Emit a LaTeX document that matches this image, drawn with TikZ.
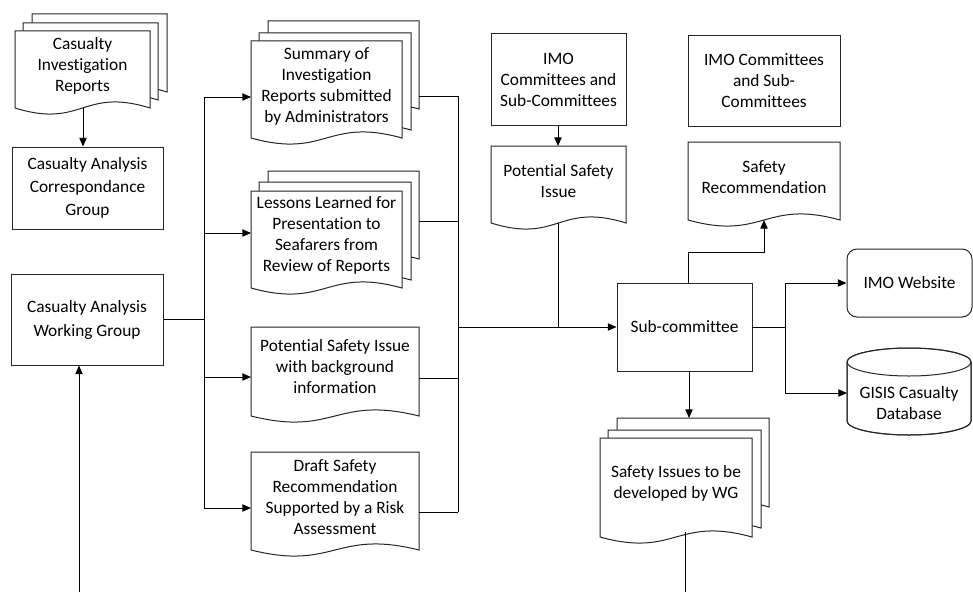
\documentclass[tikz,border=0pt]{standalone}
\usepackage{fontspec}
\setmainfont{Carlito}[Ligatures={NoCommon,NoRare}]
\usetikzlibrary{arrows.meta}
\newcommand\docpg[4]{\draw[shp] (#1,#2) -- (#3,#2) -- (#3,#4) .. controls ({(#1+#3)/2},{#4-21}) and ({(#1+#3)/2},{#4+21}) .. (#1,#4) -- cycle;}
\begin{document}
\begin{tikzpicture}[x=0.75pt,y=-0.75pt,
 shp/.style={draw=black!85,line width=0.75pt,fill=white},
 lbl/.style={align=center,font=\fontsize{13}{15.75}\selectfont,inner sep=0pt},
 boxn/.style={shp,lbl,rectangle},
 con/.style={draw=black,line width=0.75pt},
 arr/.style={con,-{Triangle[length=6.5pt,width=5.5pt]}}]
\useasboundingbox (0,0) rectangle (973,592);

% ---------- document shapes ----------
\docpg{32}{14}{167}{92}
\docpg{23}{23}{158}{100}
\docpg{15}{31}{150}{108}
\node[lbl] (cirt) at (82.5,66) {Casualty\\Investigation\\Reports};

\docpg{268}{21}{419}{109}
\docpg{259}{33}{411}{130}
\docpg{251}{41}{402}{138}
\node[lbl] (sumt) at (326.5,86) {Summary of\\Investigation\\Reports submitted\\by Administrators};

\docpg{268}{171}{419}{259}
\docpg{259}{182}{411}{280}
\docpg{251}{191}{402}{288}
\node[lbl] (lest) at (326.5,235) {Lessons Learned for\\Presentation to\\Seafarers from\\Review of Reports};

\docpg{251}{327}{419}{416}
\node[lbl] (psbt) at (335,367) {Potential Safety Issue\\with background\\information};

\docpg{251}{452}{419}{550}
\node[lbl] (drft) at (335,497.5) {Draft Safety\\Recommendation\\Supported by a Risk\\Assessment};

\docpg{491}{146}{626}{223}
\node[lbl] (psit) at (558.5,181) {Potential Safety\\Issue};

\docpg{688}{142}{840}{220}
\node[lbl] (srt) at (764,177) {Safety\\Recommendation};

\docpg{617}{418}{769}{507}
\docpg{608}{430}{761}{528}
\docpg{600}{438}{752}{537}
\node[lbl] (sit) at (676,483) {Safety Issues to be\\developed by WG};

% ---------- boxes ----------
\node[boxn,minimum width=113.25pt,minimum height=61.5pt,font=\fontsize{13}{17.5}\selectfont] (corr) at (87.5,188) {Casualty Analysis\\Correspondance\\Group};
\node[boxn,minimum width=114pt,minimum height=68.25pt,font=\fontsize{13}{18}\selectfont] (wg) at (87,319.5) {Casualty Analysis\\Working Group};
\node[boxn,minimum width=101.25pt,minimum height=68.25pt] (imoa) at (558.5,79.5) {IMO\\Committees and\\Sub-Committees};
\node[boxn,minimum width=114pt,minimum height=67.5pt] (imob) at (764,81) {IMO Committees\\and Sub-\\Committees};
\node[boxn,minimum width=101.25pt,minimum height=66pt] (sub) at (684.5,327) {Sub-committee};
\node[boxn,minimum width=93.75pt,minimum height=51pt,rounded corners=7.5pt] (web) at (909.5,283) {IMO Website};

% cylinder
\path[shp] (847,362) -- (847,421) arc[start angle=180,end angle=0,x radius=62,y radius=14] -- (971,362) arc[start angle=0,end angle=-180,x radius=62,y radius=14] -- cycle;
\draw[shp,fill=none] (847,362) -- (847,421) arc[start angle=180,end angle=0,x radius=62,y radius=14] -- (971,362);
\draw[shp,fill=none] (909,362) ellipse[x radius=62,y radius=14];
\node[lbl] (gis) at (909,403) {GISIS Casualty\\Database};

% ---------- named connector ends ----------
\coordinate (cirb) at (83,108);
\coordinate (wgin) at (79,592);
\coordinate (tk1) at (204,97);
\coordinate (tk2) at (204,233);
\coordinate (tk3) at (204,377);
\coordinate (tk4) at (204,508);
\coordinate (sumin) at (251,97);
\coordinate (lesin) at (251,233);
\coordinate (psbin) at (251,377);
\coordinate (drfin) at (251,508);
\coordinate (sumout) at (419,96);
\coordinate (lesout) at (419,221);
\coordinate (psbout) at (419,378);
\coordinate (drfout) at (419,512);
\coordinate (bs1) at (458,96);
\coordinate (bs2) at (458,512);
\coordinate (psitop) at (558,146);
\coordinate (psib) at (558,223);
\coordinate (subtop) at (688,283);
\coordinate (srb) at (764,220);
\coordinate (subbot) at (689,371);
\coordinate (sitop) at (689,418);
\coordinate (sib) at (685,532);
\coordinate (siend) at (685,592);
\coordinate (br1) at (785,283);
\coordinate (br2) at (785,393);
\coordinate (gisin) at (847,393);

% ---------- connectors ----------
\draw[arr] (cirb) -- (cirb |- corr.north);
\draw[arr] (wgin) -- (wgin |- wg.south);
\draw[con] (wg.east) -- (wg.east -| tk1);
\draw[con] (tk1) -- (tk4);
\draw[arr] (tk1) -- (sumin);
\draw[arr] (tk2) -- (lesin);
\draw[arr] (tk3) -- (psbin);
\draw[arr] (tk4) -- (drfin);
\draw[con] (sumout) -- (bs1);
\draw[con] (lesout) -- (lesout -| bs1);
\draw[con] (psbout) -- (psbout -| bs1);
\draw[con] (drfout) -- (bs2);
\draw[con] (bs1) -- (bs2);
\draw[arr] (bs1 |- sub.west) -- (sub.west);
\draw[arr] (imoa.south -| psitop) -- (psitop);
\draw[con] (psib) -- (psib |- sub.west);
\draw[arr] (subtop) -- (688,252) -- (764,252) -- (srb);
\draw[arr] (subbot) -- (sitop);
\draw[con] (sib) -- (siend);
\draw[con] (sub.east) -- (sub.east -| br1);
\draw[con] (br1) -- (br2);
\draw[arr] (br1) -- (web.west);
\draw[arr] (br2) -- (gisin);
\end{tikzpicture}
\end{document}
